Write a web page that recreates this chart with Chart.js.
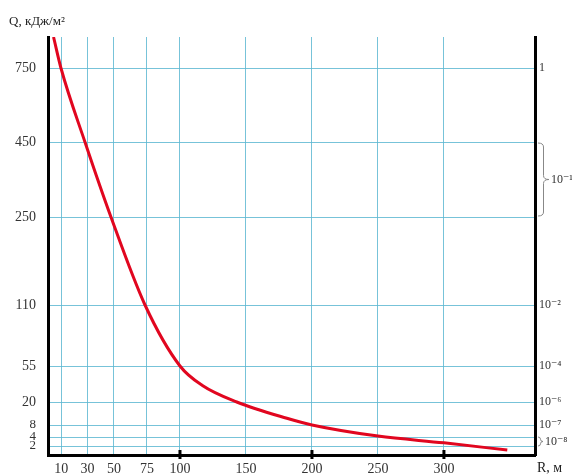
<!DOCTYPE html>
<html>
<head>
<meta charset="utf-8">
<script src="https://cdn.jsdelivr.net/npm/chart.js@4.4.1/dist/chart.umd.min.js"></script>
<style>
  html, body { margin: 0; padding: 0; background: #fff; }
  #wrap { width: 572px; height: 475px; }
</style>
</head>
<body>
<div id="wrap"><canvas id="myChart" width="572" height="475"></canvas></div>
<script>
// data (mostly where the curve crosses the grid)
const rValues = [4.2, 9.8, 28, 47.7, 73.5, 100, 117, 143, 181, 200, 250, 300, 348];
const qValues = [875, 750, 450, 250, 110, 55, 36, 20, 11.5, 8, 4.3, 2.7, 1.1];

const xTicks = [10, 30, 50, 75, 100, 150, 200, 250, 300];
const xMajor = [100, 200, 300];
const qTicks = [2, 4, 8, 20, 55, 110, 250, 450, 750];
const rightTickValues = [750, 110, 55, 20, 8];
const rightTickLabels = ["1", "10⁻²", "10⁻⁴", "10⁻⁶", "10⁻⁷"];

// the Q axis is not uniform: where each value sits (share of axis height)
const breakValues = [0, 2, 4, 8, 20, 55, 110, 250, 450, 750, 875];
const breakFracs = [0, 9, 18, 30, 53, 89, 150, 238, 313, 387, 418].map((p) => p / 418);

function valueToFrac(v) {
  if (v <= breakValues[0]) return 0;
  for (let i = 1; i < breakValues.length; i++) {
    if (v <= breakValues[i]) {
      const t = (v - breakValues[i - 1]) / (breakValues[i] - breakValues[i - 1]);
      return breakFracs[i - 1] + t * (breakFracs[i] - breakFracs[i - 1]);
    }
  }
  return 1;
}
function fracToValue(f) {
  for (let i = 1; i < breakFracs.length; i++) {
    if (f <= breakFracs[i]) {
      const t = (f - breakFracs[i - 1]) / (breakFracs[i] - breakFracs[i - 1]);
      return breakValues[i - 1] + t * (breakValues[i] - breakValues[i - 1]);
    }
  }
  return breakValues[breakValues.length - 1];
}

class BreakScale extends Chart.LinearScale {
  getPixelForValue(value) {
    return this.getPixelForDecimal(valueToFrac(value));
  }
  getValueForPixel(pixel) {
    return fracToValue(this.getDecimalForPixel(pixel));
  }
}
BreakScale.id = "breaks";
BreakScale.defaults = Chart.LinearScale.defaults;
Chart.register(BreakScale);

const gridColor = "rgba(95,185,210,0.85)";
const serif = "'Liberation Serif', 'DejaVu Serif', serif";

function brace(ctx, x, y1, y2, w) {
  const ym = (y1 + y2) / 2;
  const r = Math.min(4, (y2 - y1) / 4);
  ctx.beginPath();
  ctx.moveTo(x, y1);
  ctx.quadraticCurveTo(x + w / 2, y1, x + w / 2, y1 + r);
  ctx.lineTo(x + w / 2, ym - r);
  ctx.quadraticCurveTo(x + w / 2, ym, x + w, ym);
  ctx.quadraticCurveTo(x + w / 2, ym, x + w / 2, ym + r);
  ctx.lineTo(x + w / 2, y2 - r);
  ctx.quadraticCurveTo(x + w / 2, y2, x, y2);
  ctx.stroke();
}

const extras = {
  id: "extras",
  afterDraw(chart) {
    const ctx = chart.ctx;
    const xs = chart.scales.x;
    const ys = chart.scales.y;
    const area = chart.chartArea;
    ctx.save();
    // marks on the R axis
    ctx.fillStyle = "#000";
    xMajor.forEach((v) => {
      const px = xs.getPixelForValue(v);
      ctx.fillRect(px - 1.5, area.bottom - 5, 3, 9);
    });
    // axis names
    ctx.fillStyle = "#222";
    ctx.font = "13px " + serif;
    ctx.textBaseline = "middle";
    ctx.textAlign = "left";
    ctx.fillText("Q, кДж/м²", 9, 22);
    ctx.font = "14px " + serif;
    ctx.fillText("R, м", 537, 468);
    // braces on the right
    ctx.strokeStyle = "#888";
    ctx.lineWidth = 1;
    const b1 = ys.getPixelForValue(450), b2 = ys.getPixelForValue(250);
    brace(ctx, area.right + 3, b1 + 1, b2 - 1, 11);
    const c1 = ys.getPixelForValue(4), c2 = ys.getPixelForValue(2);
    brace(ctx, area.right + 3, c1, c2, 5);
    ctx.fillStyle = "#333";
    ctx.font = "12px " + serif;
    ctx.fillText("10⁻¹", area.right + 16, (b1 + b2) / 2);
    ctx.fillText("10⁻⁸", area.right + 10, (c1 + c2) / 2);
    ctx.restore();
  },
};

const chartOne = document.getElementById("myChart").getContext("2d");

const lineChart = new Chart(chartOne, {
  type: "line",
  data: {
    datasets: [
      {
        data: rValues.map((r, i) => ({ x: r, y: qValues[i] })),
        borderColor: "#e1061f",
        borderWidth: 3,
        pointRadius: 0,
        cubicInterpolationMode: "monotone",
        fill: false,
      },
    ],
  },
  options: {
    responsive: false,
    animation: false,
    layout: { padding: { top: 37 } },
    plugins: {
      legend: { display: false },
      tooltip: { enabled: false },
    },
    scales: {
      x: {
        type: "linear",
        min: 0,
        max: 369,
        afterBuildTicks: (axis) => {
          axis.ticks = xTicks.map((v) => ({ value: v }));
        },
        afterFit: (axis) => {
          axis.height = 20;
        },
        grid: { color: gridColor, lineWidth: 1, drawTicks: false },
        border: { color: "#000", width: 3 },
        ticks: {
          autoSkip: false,
          maxRotation: 0,
          padding: 6,
          color: "#333",
          font: { family: serif, size: 14 },
        },
      },
      y: {
        type: "breaks",
        position: "left",
        min: 0,
        max: 875,
        afterBuildTicks: (axis) => {
          axis.ticks = qTicks.map((v) => ({ value: v }));
        },
        afterFit: (axis) => {
          axis.width = 48;
        },
        grid: { color: gridColor, lineWidth: 1, drawTicks: false },
        border: { color: "#000", width: 3 },
        ticks: {
          autoSkip: false,
          padding: 12,
          color: "#333",
          font: (c) => ({ family: serif, size: c.tick && c.tick.value < 10 ? 13 : 14 }),
        },
      },
      yRight: {
        type: "breaks",
        position: "right",
        min: 0,
        max: 875,
        afterBuildTicks: (axis) => {
          axis.ticks = rightTickValues.map((v) => ({ value: v }));
        },
        afterFit: (axis) => {
          axis.width = 37;
        },
        grid: { display: false, drawTicks: false },
        border: { color: "#000", width: 3 },
        ticks: {
          autoSkip: false,
          padding: 4,
          color: "#333",
          font: { family: serif, size: 12 },
          callback: (v) => {
            const i = rightTickValues.indexOf(v);
            return i >= 0 ? rightTickLabels[i] : "";
          },
        },
      },
    },
  },
  plugins: [extras],
});
</script>
</body>
</html>
